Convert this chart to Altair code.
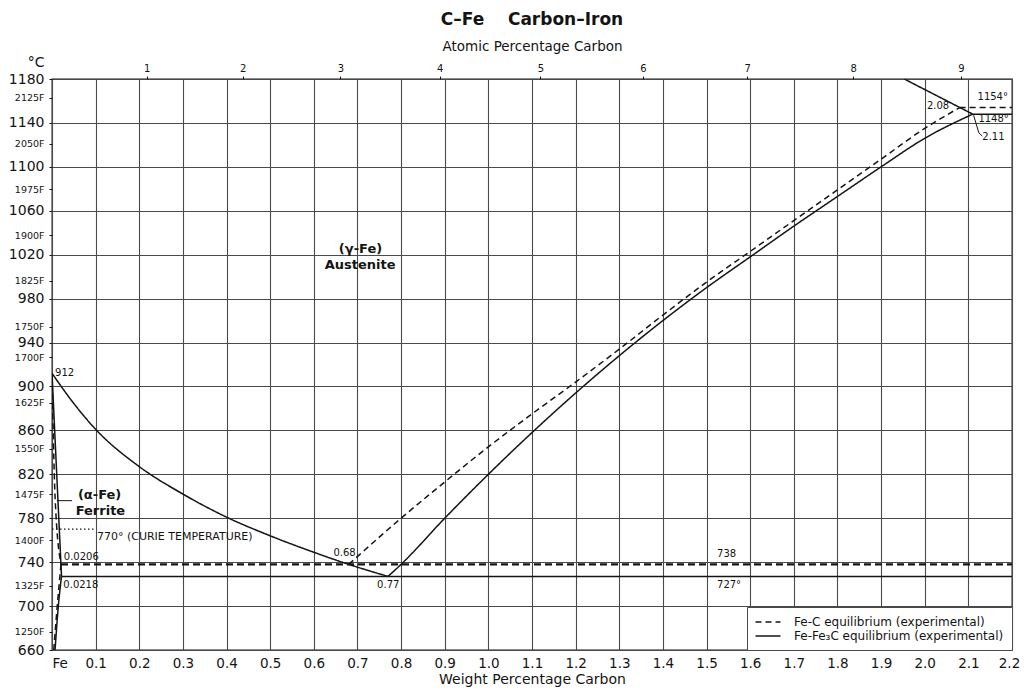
import altair as alt
import pandas as pd

FONT = "DejaVu Sans"
INK = "#141414"
GRID = "#4a4a4a"

# ---------------- axis values ----------------
X_TICKS = [0.0, 0.1, 0.2, 0.3, 0.4, 0.5, 0.6, 0.7, 0.8, 0.9, 1.0, 1.1,
           1.2, 1.3, 1.4, 1.5, 1.6, 1.7, 1.8, 1.9, 2.0, 2.1, 2.2]
C_TICKS = [1180, 1140, 1100, 1060, 1020, 980, 940, 900, 860, 820, 780, 740, 700, 660]
F_LABELS = [2125, 2050, 1975, 1900, 1825, 1750, 1700, 1625, 1550, 1475, 1400, 1325, 1250]
ATOMIC_PCT = [1, 2, 3, 4, 5, 6, 7, 8, 9]

SERIES = ["Fe-C equilibrium (experimental)", "Fe-Fe\u2083C equilibrium (experimental)"]

# ---------------- phase boundaries (wt% C, deg C) ----------------
# Fe-Fe3C (solid)
A3_W = [0.0, 0.049, 0.1, 0.2, 0.3, 0.4, 0.5, 0.6, 0.68, 0.77]
A3_T = [912, 885, 861, 827, 802, 781, 764, 749, 738, 727]

ACM_W = [0.77, 0.8, 0.9, 1.0, 1.1, 1.2, 1.3, 1.4, 1.5, 1.6, 1.7, 1.8, 1.9, 2.0, 2.11]
ACM_T = [727, 738, 780, 820, 858, 894, 928, 960, 990, 1018, 1046, 1073, 1100, 1126, 1148]

SOLIDUS_W = [1.953, 2.11]
SOLIDUS_T = [1180, 1148]

EUTECTIC_W = [2.11, 2.2]
EUTECTIC_T = [1148, 1148]

EUTECTOID_W = [0.0218, 2.2]
EUTECTOID_T = [727, 727]

ALPHA_W = [0.0, 0.0218]
ALPHA_T = [912, 727]

SOLVUS_W = [0.007, 0.0145, 0.0218]
SOLVUS_T = [660, 700, 727]

# Fe-C (dashed)
ACM_G_W = [0.68, 0.8, 0.9, 1.0, 1.1, 1.2, 1.3, 1.4, 1.5, 1.6, 1.7, 1.8, 1.9, 2.0, 2.08]
ACM_G_T = [738, 780, 813, 845, 875, 904, 934, 965, 995, 1023, 1051, 1079, 1107, 1135, 1154]

EUTECTIC_G_W = [2.08, 2.2]
EUTECTIC_G_T = [1154, 1154]

EUTECTOID_G_W = [0.0206, 2.2]
EUTECTOID_G_T = [738, 738]

ALPHA_G_W = [0.0, 0.007, 0.0206]
ALPHA_G_T = [912, 800, 738]

SOLVUS_G_W = [0.004, 0.012, 0.0206]
SOLVUS_G_T = [660, 700, 738]

# Curie temperature (dotted)
CURIE_W = [0.0, 0.1]
CURIE_T = [770, 770]

# leader lines
LEAD_FERRITE_W = [0.011, 0.046]
LEAD_FERRITE_T = [796, 796]
LEAD_211_W = [2.112, 2.124, 2.132]
LEAD_211_T = [1147, 1131, 1128]

# ---------------- labels ----------------
PHASE_TEXT = ["(\u03b3-Fe)", "Austenite", "(\u03b1-Fe)", "Ferrite"]
PHASE_W = [0.707, 0.706, 0.109, 0.111]
PHASE_T = [1025, 1011, 801, 787]

NOTE_TEXT = ["912", "0.0206", "0.0218", "0.68", "0.77", "738", "727\u00b0",
             "1154\u00b0", "2.08", "1148\u00b0", "2.11"]
NOTE_W = [0.007, 0.027, 0.026, 0.645, 0.745, 1.524, 1.524, 2.121, 2.005, 2.123, 2.132]
NOTE_T = [912, 745, 719, 748, 719, 747, 719, 1164, 1155, 1144, 1127]

CURIE_TEXT = ["770\u00b0 (CURIE TEMPERATURE)"]
CURIE_TEXT_W = [0.103]
CURIE_TEXT_T = [763]

# ---------------- tables ----------------
SEGMENTS = [
    ("a3", SERIES[1], A3_W, A3_T),
    ("acm", SERIES[1], ACM_W, ACM_T),
    ("solidus", SERIES[1], SOLIDUS_W, SOLIDUS_T),
    ("eutectic", SERIES[1], EUTECTIC_W, EUTECTIC_T),
    ("eutectoid", SERIES[1], EUTECTOID_W, EUTECTOID_T),
    ("alpha", SERIES[1], ALPHA_W, ALPHA_T),
    ("solvus", SERIES[1], SOLVUS_W, SOLVUS_T),
    ("acm_g", SERIES[0], ACM_G_W, ACM_G_T),
    ("eutectic_g", SERIES[0], EUTECTIC_G_W, EUTECTIC_G_T),
    ("alpha_g", SERIES[0], ALPHA_G_W, ALPHA_G_T),
    ("solvus_g", SERIES[0], SOLVUS_G_W, SOLVUS_G_T),
]
rows = []
for name, ser, ws, ts in SEGMENTS:
    for w, t in zip(ws, ts):
        rows.append({"seg": name, "series": ser, "w": w, "t": t})
df_lines = pd.DataFrame(rows)

df_eutectoid_g = pd.DataFrame({"w": EUTECTOID_G_W, "t": EUTECTOID_G_T})
df_curie = pd.DataFrame({"w": CURIE_W, "t": CURIE_T})
lead_rows = []
for name, ws, ts in [("fer", LEAD_FERRITE_W, LEAD_FERRITE_T), ("c211", LEAD_211_W, LEAD_211_T)]:
    for w, t in zip(ws, ts):
        lead_rows.append({"seg": name, "w": w, "t": t})
df_lead = pd.DataFrame(lead_rows)
df_phase = pd.DataFrame({"label": PHASE_TEXT, "w": PHASE_W, "t": PHASE_T})
df_note = pd.DataFrame({"label": NOTE_TEXT, "w": NOTE_W, "t": NOTE_T})
df_curie_text = pd.DataFrame({"label": CURIE_TEXT, "w": CURIE_TEXT_W, "t": CURIE_TEXT_T})

# unit conversions for the secondary tick positions
F_POS = [(f - 32) * 5.0 / 9.0 for f in F_LABELS]
Y_TICKS = C_TICKS + F_POS
W_AT = [100.0 * a * 12.011 / (a * 12.011 + (100 - a) * 55.845) for a in ATOMIC_PCT]

x_scale = alt.Scale(domain=[0, 2.2], nice=False, zero=False)
y_scale = alt.Scale(domain=[660, 1180], nice=False, zero=False)

is_c = "datum.value % 40 == 20"

x_bottom = alt.X(
    "w:Q", scale=x_scale,
    axis=alt.Axis(
        values=X_TICKS,
        labelExpr="datum.value == 0 ? 'Fe' : format(datum.value, '.1f')",
        labelAlign={"condition": {"test": "datum.value == 0", "value": "left"}, "value": "center"},
        labelOffset={"condition": {"test": "datum.value > 2.15", "value": -3}, "value": 0},
        labelFlush=False, grid=True, gridColor=GRID, gridWidth=1.1,
        ticks=False, domain=False, labelFont=FONT, labelFontSize=13.5,
        labelColor=INK, labelPadding=6,
        title="Weight Percentage Carbon", titleFont=FONT, titleFontSize=14,
        titleFontWeight="normal", titleColor=INK, titlePadding=3,
    ),
)
y_left = alt.Y(
    "t:Q", scale=y_scale,
    axis=alt.Axis(
        values=Y_TICKS,
        labelExpr=is_c + " ? format(datum.value, 'd') : format(round(datum.value * 9 / 5 + 32), 'd') + 'F'",
        labelFontSize={"condition": {"test": is_c, "value": 14}, "value": 9.5},
        gridOpacity={"condition": {"test": is_c, "value": 1}, "value": 0},
        grid=True, gridColor=GRID, gridWidth=1.1,
        tickSize=3, tickColor=INK, domain=False,
        labelFont=FONT, labelColor=INK, labelPadding=5,
        title="\u00b0C", titleAngle=0, titleAlign="right", titleBaseline="middle",
        titleX=-8, titleY=-17, titleFont=FONT, titleFontSize=14,
        titleFontWeight="normal", titleColor=INK,
    ),
)
x_plain = alt.X("w:Q", scale=x_scale, axis=None)
y_plain = alt.Y("t:Q", scale=y_scale, axis=None)
x_top = alt.X(
    "w:Q", scale=x_scale,
    axis=alt.Axis(
        orient="top", values=W_AT,
        labelExpr="format(round(100 * (datum.value / 12.011) / (datum.value / 12.011 + (100 - datum.value) / 55.845)), 'd')",
        labelFlush=False, grid=False, ticks=True, tickSize=3, tickColor=INK,
        domain=False, labelFont=FONT, labelFontSize=10, labelColor=INK, labelPadding=3,
        title="Atomic Percentage Carbon", titleFont=FONT, titleFontSize=13.5,
        titleFontWeight="normal", titleColor=INK, titlePadding=10,
    ),
)

lines = alt.Chart(df_lines).mark_line(
    color=INK, strokeWidth=1.5, interpolate="monotone", clip=True
).encode(
    x=x_bottom, y=y_left, detail="seg:N",
    strokeDash=alt.StrokeDash(
        "series:N",
        scale=alt.Scale(domain=SERIES, range=[[6, 4], [1, 0]]),
        legend=alt.Legend(
            title=None, orient="bottom-right", offset=0, fillColor="white",
            strokeColor=GRID, padding=8, symbolType="M-2,0H2", symbolSize=156,
            symbolOffset=6, symbolStrokeWidth=1.3, symbolStrokeColor=INK,
            labelFont=FONT, labelFontSize=12, labelColor=INK, labelOffset=19,
            rowPadding=1, labelLimit=0,
        ),
    ),
)

eutectoid_g = alt.Chart(df_eutectoid_g).mark_line(
    color=INK, strokeWidth=2.4, strokeDash=[7, 4], clip=True
).encode(x=x_plain, y=y_plain)

curie = alt.Chart(df_curie).mark_line(
    color=INK, strokeWidth=1.2, strokeDash=[1.5, 2.5], clip=True
).encode(x=x_plain, y=y_plain)

leaders = alt.Chart(df_lead).mark_line(color=INK, strokeWidth=1, clip=True).encode(
    x=x_plain, y=y_plain, detail="seg:N"
)

phase = alt.Chart(df_phase).mark_text(
    font=FONT, fontSize=13, fontWeight="bold", color=INK, align="center", baseline="middle"
).encode(x=x_top, y=y_plain, text="label:N")

notes = alt.Chart(df_note).mark_text(
    font=FONT, fontSize=10, color=INK, align="left", baseline="middle"
).encode(x=x_plain, y=y_plain, text="label:N")

curie_text = alt.Chart(df_curie_text).mark_text(
    font=FONT, fontSize=11, color=INK, align="left", baseline="middle"
).encode(x=x_plain, y=y_plain, text="label:N")

chart = alt.layer(
    lines, eutectoid_g, curie, leaders, phase, notes, curie_text
).resolve_axis(
    x="independent", y="independent"
).properties(
    width=960, height=571,
    autosize=alt.AutoSizeParams(type="none"),
    padding={"left": 44, "top": 71, "right": 8, "bottom": 37},
    title=alt.TitleParams(
        text="C\u2013Fe\u00a0\u00a0\u00a0\u00a0Carbon\u2013Iron", font=FONT, fontSize=17,
        fontWeight="bold", color=INK, anchor="middle", offset=10,
    ),
).configure_view(stroke=INK, strokeWidth=1.3)

chart.save("out.html", embed_options={"renderer": "svg", "actions": False})
